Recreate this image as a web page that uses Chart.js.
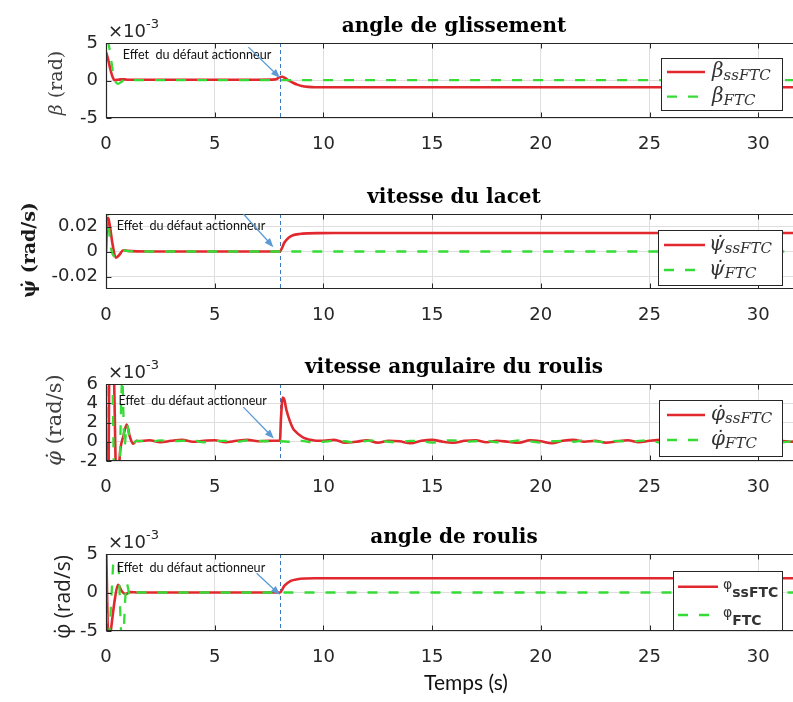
<!DOCTYPE html>
<html><head><meta charset="utf-8">
<script src="https://cdn.jsdelivr.net/npm/chart.js@4.4.0/dist/chart.umd.min.js"></script>
<style>
html,body{margin:0;padding:0;background:#fff;}
#wrap{position:relative;width:793px;height:702px;overflow:hidden;background:#fff;}
canvas{position:absolute;left:0;}
</style></head><body><div id="wrap">
<canvas id="c1" width="793" height="170" style="top:0px"></canvas>
<canvas id="c2" width="793" height="175" style="top:170px"></canvas>
<canvas id="c3" width="793" height="170" style="top:345px"></canvas>
<canvas id="c4" width="793" height="187" style="top:515px"></canvas>
</div>
<script>
// ---------- data ----------
const xTicks = [0, 5, 10, 15, 20, 25, 30];
const xMax = 31.6;
const faultTime = 8;
const titles = ['angle de glissement', 'vitesse du lacet', 'vitesse angulaire du roulis', 'angle de roulis'];
const annotationText = 'Effet  du défaut actionneur';

// 1) sideslip angle beta (x 1e-3 rad)
const betaTicks = [-5, 0, 5];
const tBeta = [0, 0.1, 0.2, 0.3, 0.4, 0.55, 0.7, 0.85, 1, 2, 3, 4, 5, 6, 7, 7.8, 8, 8.1, 8.25, 8.4, 8.6, 8.8, 9, 9.3, 9.6, 10, 12, 14, 16, 18, 20, 22, 24, 26, 28, 30, 32];
const betaSsFTC = [3.8, 2.8, 1.5, 0.5, 0.05, 0.1, 0.15, 0.15, 0.1, 0.1, 0.1, 0.1, 0.1, 0.1, 0.1, 0.15, 0.45, 0.5, 0.3, 0.0, -0.3, -0.55, -0.72, -0.85, -0.9, -0.9, -0.9, -0.9, -0.9, -0.9, -0.9, -0.9, -0.9, -0.9, -0.9, -0.9, -0.9];
const betaFTC = [5.2, 5.0, 3.5, 1.5, 0.1, -0.45, -0.2, 0.1, 0.05, 0.05, 0.05, 0.05, 0.05, 0.05, 0.05, 0.05, 0.05, 0.05, 0.05, 0.05, 0.05, 0.05, 0.05, 0.05, 0.05, 0.05, 0.05, 0.05, 0.05, 0.05, 0.05, 0.05, 0.05, 0.05, 0.05, 0.05, 0.05];
const betaLabels = [['β', 'ssFTC'], ['β', 'FTC']];

// 2) yaw rate (rad/s)
const yawRateTicks = [-0.02, 0, 0.02];
const tYawRate = [0, 0.04, 0.08, 0.12, 0.2, 0.3, 0.45, 0.6, 0.8, 1, 2, 4, 6, 7.9, 8, 8.1, 8.2, 8.4, 8.6, 8.9, 9.3, 9.8, 10.5, 12, 14, 16, 18, 20, 22, 24, 26, 28, 30, 32];
const yawRateSsFTC = [0, 0.018, 0.027, 0.026, 0.018, 0.006, -0.005, -0.003, 0.001, 0.0005, 0, 0, 0, 0, 0, 0.003, 0.007, 0.011, 0.013, 0.014, 0.0145, 0.0147, 0.0148, 0.0148, 0.0148, 0.0148, 0.0148, 0.0148, 0.0148, 0.0148, 0.0148, 0.0148, 0.0148, 0.0148];
const yawRateFTC = [0, 0.035, 0.033, 0.022, 0.006, -0.002, -0.004, -0.002, 0.001, 0.0003, 0, 0, 0, 0, 0, 0, 0, 0, 0, 0, 0, 0, 0, 0, 0, 0, 0, 0, 0, 0, 0, 0, 0, 0];
const yawRateLabels = [['ψ̇', 'ssFTC'], ['ψ̇', 'FTC']];

// 3) roll rate (x 1e-3 rad/s)
const rollRateTicks = [-2, 0, 2, 4, 6];
const tRollRateSs = [0, 0.1, 0.17, 0.33, 0.5, 0.65, 0.8, 0.95, 1.1, 1.25, 1.4, 1.5, 2, 2.5, 3, 3.5, 4, 4.5, 5, 5.5, 6, 6.5, 7, 7.5, 8, 8.05, 8.13, 8.2, 8.3, 8.45, 8.6, 8.75, 8.9, 9.1, 9.4, 9.7, 10, 10.5, 11, 11.5, 12, 12.5, 13, 13.5, 14, 14.5, 15, 15.5, 16, 16.5, 17, 17.5, 18, 18.5, 19, 19.5, 20, 20.5, 21, 21.5, 22, 22.5, 23, 23.5, 24, 24.5, 25, 25.5, 26, 26.5, 27, 27.5, 28, 28.5, 29, 29.5, 30, 30.5, 31, 31.5, 32];
const rollRateSsFTC = [0, -6, 12, 10, -6, -1, 0.6, 1.8, 0.5, -0.2, 0.1,
  0.05, 0.15, -0.05, 0.1, 0.2, 0.0, 0.1, 0.15, -0.05, 0.1, 0.2, 0.05, 0.1,
  0.1, 2.5, 4.6, 4.4, 3.3, 2.2, 1.4, 1.0, 0.7, 0.4, 0.2, 0.1,
  0.1, 0.2, -0.1, 0.0, 0.15, -0.1, 0.1, 0.05, -0.15, 0.1, 0.2, 0.0, -0.1, 0.1, 0.15,
  -0.05, 0.1, 0.0, -0.1, 0.15, 0.05, -0.15, 0.1, 0.2, 0.0, 0.1, -0.1, 0.05, 0.15, -0.05,
  0.1, 0.2, -0.1, 0.0, 0.1, 0.15, -0.05, 0.1, 0.0, -0.1, 0.15, 0.05, 0.1, 0.0, 0.1];
const tRollRateFtc = [0, 0.04, 0.25, 0.42, 0.55, 0.75, 0.85, 0.96, 1.1, 1.25, 1.4, 1.5, 2, 2.5, 3, 3.5, 4, 4.5, 5, 5.5, 6, 6.5, 7, 7.5, 8, 8.5, 9, 9.5, 10, 10.5, 11, 11.5, 12, 12.5, 13, 13.5, 14, 14.5, 15, 15.5, 16, 16.5, 17, 17.5, 18, 18.5, 19, 19.5, 20, 20.5, 21, 21.5, 22, 22.5, 23, 23.5, 24, 24.5, 25, 25.5, 26, 26.5, 27, 27.5, 28, 28.5, 29, 29.5, 30, 30.5, 31, 31.5, 32];
const rollRateFTC = [-4, 10, 10, -8, -8, 6.5, -0.5, 1.8, 0.3, -0.2, 0.1,
  0.1, 0.0, 0.15, 0.05, 0.1, 0.15, -0.05, 0.1, 0.1, 0.0, 0.15, 0.1, 0.05,
  0.05, 0.0, 0.1, -0.05,
  0.0, 0.1, 0.05, -0.1, 0.1, 0.15, 0.0, -0.05, 0.1, 0.05, -0.1, 0.1, 0.15, 0.0, 0.05,
  0.1, -0.05, 0.0, 0.15, 0.05, -0.1, 0.05, 0.1, 0.0, 0.15, 0.05, -0.05, 0.1, 0.0, 0.1,
  0.15, -0.1, 0.05, 0.1, 0.0, 0.05, 0.1, -0.05, 0.15, 0.0, 0.1, 0.05, -0.1, 0.05, 0.1];
const rollRateLabels = [['φ̇', 'ssFTC'], ['φ̇', 'FTC']];

// 4) roll angle (x 1e-3)
const rollTicks = [-5, 0, 5];
const tRollSs = [0, 0.12, 0.22, 0.4, 0.55, 0.72, 0.9, 1.1, 1.5, 3, 5, 7, 8, 8.2, 8.5, 8.8, 9.2, 9.7, 10.5, 12, 14, 16, 18, 20, 22, 24, 26, 28, 30, 32];
const rollSsFTC = [7, -7, -5, -1, 1.0, 0.2, -0.2, 0.05, 0, 0, 0, 0, 0, 0.85, 1.5, 1.72, 1.82, 1.85, 1.86, 1.86, 1.86, 1.86, 1.86, 1.86, 1.86, 1.86, 1.86, 1.86, 1.86, 1.86];
const tRollFtc = [0, 0.07, 0.45, 0.5, 0.75, 0.95, 1.1, 1.25, 1.4, 3, 5, 7, 8, 10, 15, 20, 25, 32];
const rollFTC = [0, -7, 7, 7, -7, 1.2, -0.4, 0.2, 0, 0, 0, 0, 0, 0, 0, 0, 0, 0];
const rollLabels = [['φ', 'ssFTC'], ['φ', 'FTC']];

// ---------- styles ----------
const RED = '#e0282e', GREEN = '#36dc36', GRID = '#dedede', AXC = '#262626';
const TICKFONT = {family: 'DejaVu Sans', size: 18};

function pts(ts, vs) { return ts.map((t, i) => ({x: t, y: vs[i]})); }

function drawRich(ctx, segs, x, y) {
  let cx = x;
  for (const s of segs) {
    ctx.font = s.font;
    ctx.fillText(s.text, cx, y + (s.dy || 0));
    cx += ctx.measureText(s.text).width;
  }
}
function richWidth(ctx, segs) {
  let w = 0;
  for (const s of segs) { ctx.font = s.font; w += ctx.measureText(s.text).width; }
  return w;
}
function arrow(ctx, x1, y1, x2, y2) {
  const a = Math.atan2(y2 - y1, x2 - x1), L = 9, W = 3.6;
  ctx.beginPath(); ctx.moveTo(x1, y1); ctx.lineTo(x2 - L * 0.8 * Math.cos(a), y2 - L * 0.8 * Math.sin(a)); ctx.stroke();
  ctx.beginPath(); ctx.moveTo(x2, y2);
  ctx.lineTo(x2 - L * Math.cos(a) + W * Math.sin(a), y2 - L * Math.sin(a) - W * Math.cos(a));
  ctx.lineTo(x2 - L * Math.cos(a) - W * Math.sin(a), y2 - L * Math.sin(a) + W * Math.cos(a));
  ctx.closePath(); ctx.fill();
}

function makeDecor(d) {
  return {
    id: 'decor',
    beforeDatasetsDraw(chart) {
      const {ctx, chartArea: a, scales: {x}} = chart;
      const fx = Math.round(x.getPixelForValue(faultTime)) + 0.5;
      ctx.save();
      ctx.strokeStyle = '#3a78c2'; ctx.lineWidth = 1; ctx.setLineDash([4, 3]);
      ctx.beginPath(); ctx.moveTo(fx, a.top); ctx.lineTo(fx, a.bottom); ctx.stroke();
      ctx.restore();
    },
    afterDatasetsDraw(chart) {
      const {ctx, chartArea: a, scales: {x, y}} = chart;
      ctx.save();
      // box (right side is cut by the image edge)
      const T = Math.round(a.top) + 0.5, B = Math.round(a.bottom) - 0.5, Lf = Math.round(a.left) + 0.5;
      ctx.strokeStyle = AXC; ctx.lineWidth = 1.2;
      ctx.beginPath(); ctx.moveTo(a.right + 2, T); ctx.lineTo(Lf, T); ctx.lineTo(Lf, B); ctx.lineTo(a.right + 2, B); ctx.stroke();
      // inward ticks
      ctx.lineWidth = 1;
      ctx.beginPath();
      for (const v of xTicks) {
        const px = Math.round(x.getPixelForValue(v)) + 0.5;
        ctx.moveTo(px, T); ctx.lineTo(px, T + 5);
        ctx.moveTo(px, B); ctx.lineTo(px, B - 5);
      }
      for (const v of d.yTicks) {
        const py = Math.round(y.getPixelForValue(v)) + 0.5;
        ctx.moveTo(Lf, py); ctx.lineTo(Lf + 5, py);
      }
      ctx.stroke();
      // annotation
      const an = d.ann;
      ctx.fillStyle = '#111'; ctx.font = '12.6px Lato'; ctx.textBaseline = 'middle'; ctx.textAlign = 'left';
      ctx.fillText(annotationText, x.getPixelForValue(an.tx), y.getPixelForValue(an.ty));
      ctx.strokeStyle = '#5b9bd5'; ctx.fillStyle = '#5b9bd5'; ctx.lineWidth = 1.3;
      arrow(ctx, x.getPixelForValue(an.ax1), y.getPixelForValue(an.ay1), x.getPixelForValue(an.ax2), y.getPixelForValue(an.ay2));
      // legend
      const L = d.legend;
      ctx.fillStyle = '#fff'; ctx.fillRect(L.x, L.y, L.w, L.h);
      ctx.strokeStyle = AXC; ctx.lineWidth = 1; ctx.strokeRect(L.x + 0.5, L.y + 0.5, L.w, L.h);
      chart.data.datasets.forEach((ds, i) => {
        const ry = L.rows[i];
        ctx.strokeStyle = ds.borderColor; ctx.lineWidth = ds.borderWidth;
        ctx.setLineDash(ds.borderDash || []);
        ctx.beginPath(); ctx.moveTo(L.sx1, ry); ctx.lineTo(L.sx2, ry); ctx.stroke();
        ctx.setLineDash([]);
        ctx.fillStyle = '#333'; ctx.textBaseline = 'alphabetic';
        const lab = d.labels[i];
        drawRich(ctx, [{text: lab[0], font: L.symFont, dy: 0}, {text: lab[1], font: L.subFont, dy: L.subDy}], L.tx, ry + L.base);
      });
      // title
      ctx.fillStyle = '#000'; ctx.font = 'bold 20px "DejaVu Serif"'; ctx.textAlign = 'center'; ctx.textBaseline = 'alphabetic';
      ctx.fillText(d.title, 454, a.top - 11);
      // exponent
      if (d.exponent) {
        ctx.fillStyle = AXC; ctx.textAlign = 'left'; ctx.textBaseline = 'middle';
        ctx.font = '18px "DejaVu Sans"';
        ctx.fillText('×10', 108, a.top - 11);
        const w = ctx.measureText('×10').width;
        ctx.font = '13px "DejaVu Sans"';
        ctx.fillText('-3', 108 + w, a.top - 18);
      }
      // y title
      const yt = d.yTitle;
      ctx.save();
      ctx.translate(yt.cx, (a.top + a.bottom) / 2 + yt.dy);
      ctx.rotate(-Math.PI / 2);
      ctx.fillStyle = yt.color; ctx.textAlign = 'left'; ctx.textBaseline = 'middle';
      const tw = richWidth(ctx, yt.segs);
      drawRich(ctx, yt.segs, -tw / 2, 0);
      ctx.restore();
      // x title
      if (d.xTitle) {
        ctx.fillStyle = '#111'; ctx.font = '21px Lato'; ctx.textAlign = 'center'; ctx.textBaseline = 'middle';
        ctx.fillText(d.xTitle, 466, d.xTitleY);
      }
      ctx.restore();
    }
  };
}

function makeChart(c) {
  const datasets = [
    {label: c.labels[0].join(''), data: pts(c.tRed, c.red), borderColor: RED, borderWidth: 2.6, pointRadius: 0, order: 2, cubicInterpolationMode: 'monotone'},
    {label: c.labels[1].join(''), data: pts(c.tGreen, c.green), borderColor: GREEN, borderWidth: 2.3, borderDash: [10, 11], pointRadius: 0, order: 1, cubicInterpolationMode: 'monotone'}
  ];
  c.decor.labels = c.labels;
  c.decor.yTicks = c.yTicks;
  return new Chart(document.getElementById(c.id), {
    type: 'line',
    data: {datasets},
    options: {
      responsive: false, animation: false,
      layout: {padding: {left: 0, right: 0, top: c.padTop, bottom: 0}},
      plugins: {legend: {display: false}, tooltip: {enabled: false}},
      scales: {
        x: {
          type: 'linear', min: 0, max: xMax,
          afterBuildTicks: s => { s.ticks = xTicks.map(v => ({value: v})); },
          afterFit: s => { s.height = c.xH; },
          grid: {color: GRID, drawTicks: false, lineWidth: 1},
          border: {display: false},
          ticks: {font: TICKFONT, color: AXC, padding: 16, maxRotation: 0, autoSkip: false, callback: v => String(v)}
        },
        y: {
          type: 'linear', min: c.yMin, max: c.yMax,
          afterBuildTicks: s => { s.ticks = c.yTicks.map(v => ({value: v})); },
          afterFit: s => { s.width = 106; },
          grid: {color: GRID, drawTicks: false, lineWidth: 1},
          border: {display: false},
          ticks: {font: TICKFONT, color: AXC, padding: 8, autoSkip: false, callback: v => String(v)}
        }
      }
    },
    plugins: [makeDecor(c.decor)]
  });
}

const serifLegend = {symFont: 'italic 20px "DejaVu Serif"', subFont: 'italic 15px "DejaVu Serif"', subDy: 3, base: 5};

makeChart({
  id: 'c1', padTop: 43, xH: 52, yMin: -5, yMax: 5, yTicks: betaTicks,
  tRed: tBeta, red: betaSsFTC, tGreen: tBeta, green: betaFTC, labels: betaLabels,
  decor: {
    title: titles[0], exponent: true,
    yTitle: {segs: [{text: 'β', font: 'italic 19px "DejaVu Serif"'}, {text: ' (rad)', font: '19px "DejaVu Serif"'}], cx: 57, dy: 2.5, color: '#404040'},
    legend: Object.assign({x: 661, y: 58, w: 121, h: 52, rows: [72, 96.7], sx1: 667, sx2: 705, tx: 712}, serifLegend),
    ann: {tx: 0.77, ty: 3.4, ax1: 6.55, ay1: 4.45, ax2: 8.0, ay2: 0.36}
  }
});
makeChart({
  id: 'c2', padTop: 44, xH: 56, yMin: -0.03, yMax: 0.03, yTicks: yawRateTicks,
  tRed: tYawRate, red: yawRateSsFTC, tGreen: tYawRate, green: yawRateFTC, labels: yawRateLabels,
  decor: {
    title: titles[1], exponent: false,
    yTitle: {segs: [{text: 'ψ̇ (rad/s)', font: 'bold 19px "DejaVu Serif"'}], cx: 30, dy: -1.5, color: '#1a1a1a'},
    legend: Object.assign({x: 658, y: 60, w: 124, h: 55, rows: [75, 100], sx1: 664, sx2: 705, tx: 709}, serifLegend),
    ann: {tx: 0.49, ty: 0.0203, ax1: 6.32, ay1: 0.030, ax2: 7.7, ay2: 0.0035}
  }
});
makeChart({
  id: 'c3', padTop: 39, xH: 54, yMin: -2, yMax: 6, yTicks: rollRateTicks,
  tRed: tRollRateSs, red: rollRateSsFTC, tGreen: tRollRateFtc, green: rollRateFTC, labels: rollRateLabels,
  decor: {
    title: titles[2], exponent: true,
    yTitle: {segs: [{text: 'φ̇', font: 'italic 21px "DejaVu Serif"'}, {text: ' (rad/s)', font: '21px "DejaVu Serif"'}], cx: 56, dy: -2.5, color: '#404040'},
    legend: Object.assign({x: 659, y: 55, w: 123, h: 56, rows: [70, 95], sx1: 667, sx2: 705, tx: 711}, serifLegend),
    ann: {tx: 0.57, ty: 4.23, ax1: 6.32, ay1: 3.6, ax2: 7.72, ay2: 0.35}
  }
});
makeChart({
  id: 'c4', padTop: 39, xH: 71, yMin: -5, yMax: 5, yTicks: rollTicks,
  tRed: tRollSs, red: rollSsFTC, tGreen: tRollFtc, green: rollFTC, labels: rollLabels,
  decor: {
    title: titles[3], exponent: true,
    yTitle: {segs: [{text: 'φ̇ (rad/s)', font: '21px "Open Sans"'}], cx: 64, dy: 4.5, color: '#222'},
    legend: {x: 673, y: 56, w: 109, h: 59, rows: [71.7, 100], sx1: 678, sx2: 718, tx: 723,
             symFont: '14px "DejaVu Sans"', subFont: 'bold 14px "DejaVu Sans"', subDy: 8, base: 2},
    ann: {tx: 0.49, ty: 3.2, ax1: 6.93, ay1: 2.5, ax2: 8.0, ay2: -0.3},
    xTitle: 'Temps (s)', xTitleY: 168
  }
});
</script>
</body></html>
